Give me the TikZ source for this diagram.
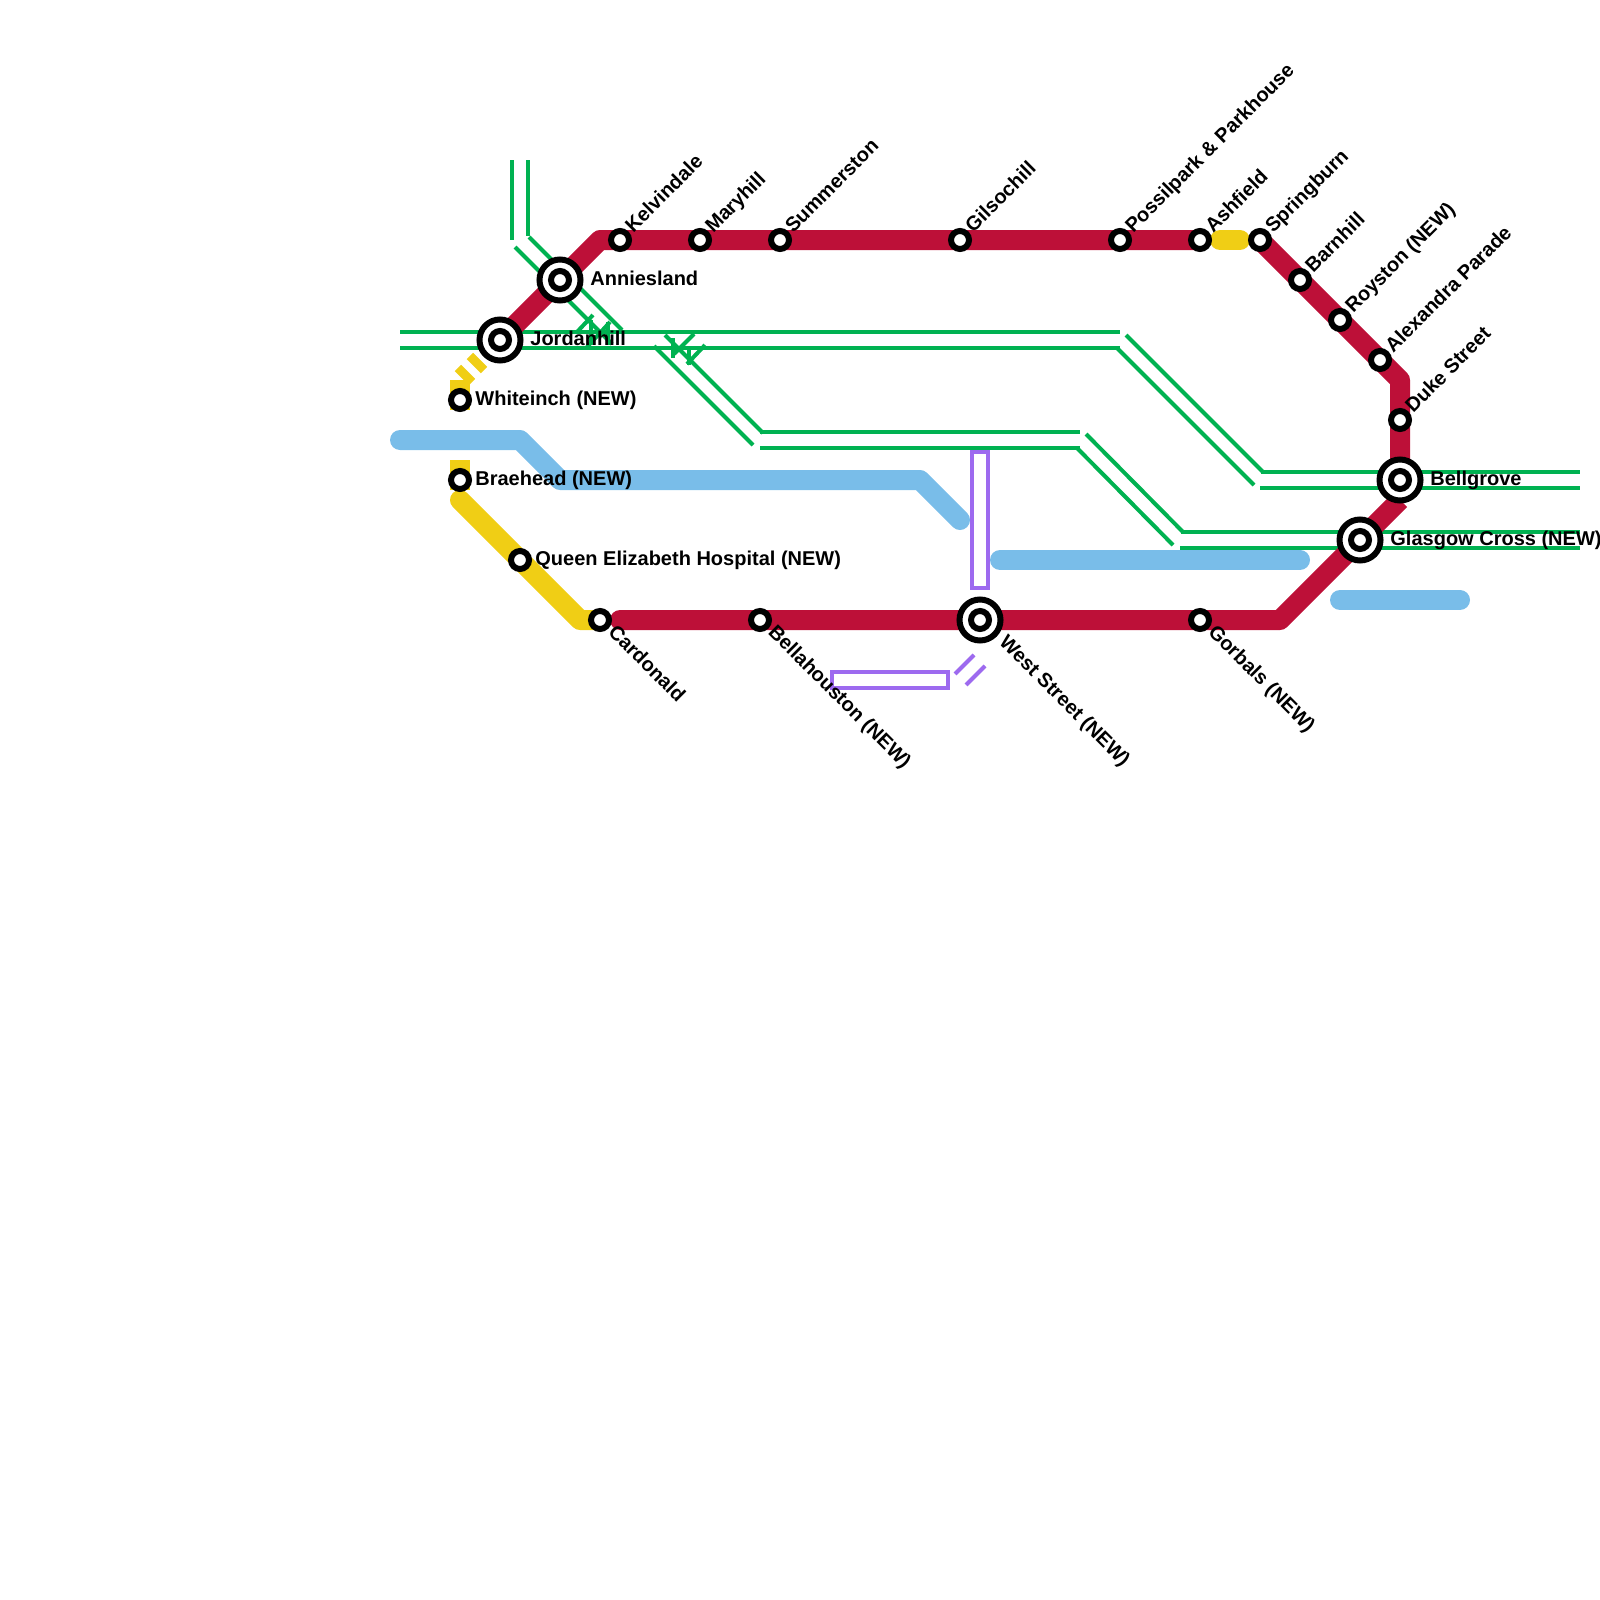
\documentclass[tikz,border=0pt]{standalone}
\usepackage{fontspec}
\setmainfont{Liberation Sans}[BoldFont={Liberation Sans Bold}]
\definecolor{cred}{HTML}{BD1038}
\definecolor{cyel}{HTML}{F0CE15}
\definecolor{cblue}{HTML}{79BDE9}
\definecolor{cgreen}{HTML}{00B251}
\definecolor{cpurple}{HTML}{9D6AEF}
\pgfdeclarelayer{lines}
\pgfsetlayers{lines,main}
\tikzset{
  redline/.style={draw=cred,line width=10pt,line join=round},
  yelline/.style={draw=cyel,line width=10pt},
  blueline/.style={draw=cblue,line width=10pt,line cap=round,line join=round},
  greenline/.style={draw=cgreen,line width=2pt},
  purpline/.style={draw=cpurple,line width=2pt},
  stn/.style={circle,draw=black,fill=white,line width=3pt,minimum size=9pt,inner sep=0pt},
  bigstn/.style={circle,draw=black,fill=white,line width=3pt,minimum size=20.5pt,inner sep=0pt},
  lab/.style={font=\bfseries\fontsize{10}{12}\selectfont,text=black,inner sep=0pt,anchor=base west},
  labup/.style={lab,rotate=45},
  labdn/.style={lab,rotate=-45},
}
\begin{document}
\begin{tikzpicture}[x=0.5pt,y=-0.5pt]
\path[use as bounding box] (0,0) rectangle (1600,1600);
% way-points
\coordinate (rA) at (600,240);
\coordinate (rB) at (1400,380);
\coordinate (rC) at (1400,500);
\coordinate (rD) at (1280,620);
\coordinate (rE) at (620,620);
\coordinate (yA) at (1220,240);
\coordinate (yB) at (1240,240);
\coordinate (yC) at (460,500);
\coordinate (yD) at (580,620);
\coordinate (yE) at (460,380);
\coordinate (yF) at (460,460);
\coordinate (yG) at (460,410);
\coordinate (yH) at (460,490);
\coordinate (bA) at (400,440);
\coordinate (bB) at (520,440);
\coordinate (bC) at (560,480);
\coordinate (bD) at (920,480);
\coordinate (bE) at (960,520);
\coordinate (bF) at (1000,560);
\coordinate (bG) at (1300,560);
\coordinate (bH) at (1340,600);
\coordinate (bI) at (1460,600);
% green way-points
\coordinate (g1a) at (512,160); \coordinate (g1b) at (512,240);
\coordinate (g2a) at (528,160); \coordinate (g2b) at (528,236);
\coordinate (g3a) at (529,237); \coordinate (g3b) at (622,330);
\coordinate (g4a) at (515,247); \coordinate (g4b) at (612,344);
\coordinate (g5a) at (400,332); \coordinate (g5b) at (1120,332);
\coordinate (g6a) at (400,348); \coordinate (g6b) at (1120,348);
\coordinate (g7a) at (665,335); \coordinate (g7b) at (763,433);
\coordinate (g8a) at (654,346); \coordinate (g8b) at (753,445);
\coordinate (g9a) at (760,432); \coordinate (g9b) at (1080,432);
\coordinate (g10a) at (760,448); \coordinate (g10b) at (1080,448);
\coordinate (g11a) at (1086,434); \coordinate (g11b) at (1183,532);
\coordinate (g12a) at (1077,448); \coordinate (g12b) at (1173,545);
\coordinate (g13a) at (1181,532); \coordinate (g13b) at (1580,532);
\coordinate (g14a) at (1180,548); \coordinate (g14b) at (1580,548);
\coordinate (g15a) at (1126,335); \coordinate (g15b) at (1263,472);
\coordinate (g16a) at (1117,348); \coordinate (g16b) at (1254,485);
\coordinate (g17a) at (1261,472); \coordinate (g17b) at (1580,472);
\coordinate (g18a) at (1260,488); \coordinate (g18b) at (1580,488);
% green crossing ticks
\coordinate (t1a) at (577,332); \coordinate (t1b) at (593,315);
\coordinate (t2a) at (591,320); \coordinate (t2b) at (591,345);
\coordinate (t3a) at (587,347); \coordinate (t3b) at (610,322);
\coordinate (t4a) at (608,322); \coordinate (t4b) at (608,345);
\coordinate (t5a) at (694,334); \coordinate (t5b) at (674,354);
\coordinate (t6a) at (673,338); \coordinate (t6b) at (673,358);
\coordinate (t7a) at (705,345); \coordinate (t7b) at (687,364);
\coordinate (t8a) at (689,347); \coordinate (t8b) at (689,365);
% purple way-points
\coordinate (p1a) at (972,452); \coordinate (p1b) at (988,588);
\coordinate (p2a) at (832,672); \coordinate (p2b) at (948,688);
\coordinate (p3a) at (955,674); \coordinate (p3b) at (974,655);
\coordinate (p4a) at (966,685); \coordinate (p4b) at (985,666);
% stations
\node[stn] (kelv) at (620,240) {};
\node[stn] (mary) at (700,240) {};
\node[stn] (summ) at (780,240) {};
\node[stn] (gils) at (960,240) {};
\node[stn] (poss) at (1120,240) {};
\node[stn] (ashf) at (1200,240) {};
\node[stn] (spri) at (1260,240) {};
\node[stn] (barn) at (1300,280) {};
\node[stn] (roys) at (1340,320) {};
\node[stn] (alex) at (1380,360) {};
\node[stn] (duke) at (1400,420) {};
\node[stn] (whit) at (460,400) {};
\node[stn] (brae) at (460,480) {};
\node[stn] (qeh) at (520,560) {};
\node[stn] (card) at (600,620) {};
\node[stn] (bell) at (760,620) {};
\node[stn] (gorb) at (1200,620) {};
\node[bigstn] (jord) at (500,340) {};
\node[bigstn] (anni) at (560,280) {};
\node[bigstn] (bgro) at (1400,480) {};
\node[bigstn] (glas) at (1360,540) {};
\node[bigstn] (west) at (980,620) {};
\node[stn] (anni2) at (560,280) {};
\node[stn] (jord2) at (500,340) {};
\node[stn] (bgro2) at (1400,480) {};
\node[stn] (glas2) at (1360,540) {};
\node[stn] (west2) at (980,620) {};
% labels
\node[labup] (lkelv) at (633,234) {Kelvindale};
\node[labup] (lmary) at (713,234) {Maryhill};
\node[labup] (lsumm) at (793,234) {Summerston};
\node[labup] (lgils) at (973,234) {Gilsochill};
\node[labup] (lposs) at (1133,234) {Possilpark \& Parkhouse};
\node[labup] (lashf) at (1213,234) {Ashfield};
\node[labup] (lspri) at (1273,234) {Springburn};
\node[labup] (lbarn) at (1313,274) {Barnhill};
\node[labup] (lroys) at (1353,314) {Royston (NEW)};
\node[labup] (lalex) at (1393,354) {Alexandra Parade};
\node[labup] (lduke) at (1413,414) {Duke Street};
\node[lab] (lanni) at (590,285) {Anniesland};
\node[lab] (ljord) at (530,345) {Jordanhill};
\node[lab] (lwhit) at (475,405) {Whiteinch (NEW)};
\node[lab] (lbrae) at (475,485) {Braehead (NEW)};
\node[lab] (lqeh) at (535,565) {Queen Elizabeth Hospital (NEW)};
\node[lab] (lbgro) at (1430,485) {Bellgrove};
\node[lab] (lglas) at (1390,545) {Glasgow Cross (NEW)};
\node[labdn] (lcard) at (607,633) {Cardonald};
\node[labdn] (lbell) at (767,633) {Bellahouston (NEW)};
\node[labdn] (lwest) at (998,643) {West Street (NEW)};
\node[labdn] (lgorb) at (1207,633) {Gorbals (NEW)};
\begin{pgfonlayer}{lines}
  % green
  \draw[greenline] (g1a) -- (g1b);
  \draw[greenline] (g2a) -- (g2b);
  \draw[greenline] (g3a) -- (g3b);
  \draw[greenline] (g4a) -- (g4b);
  \draw[greenline] (g5a) -- (g5b);
  \draw[greenline] (g6a) -- (g6b);
  \draw[greenline] (g7a) -- (g7b);
  \draw[greenline] (g8a) -- (g8b);
  \draw[greenline] (g9a) -- (g9b);
  \draw[greenline] (g10a) -- (g10b);
  \draw[greenline] (g11a) -- (g11b);
  \draw[greenline] (g12a) -- (g12b);
  \draw[greenline] (g13a) -- (g13b);
  \draw[greenline] (g14a) -- (g14b);
  \draw[greenline] (g15a) -- (g15b);
  \draw[greenline] (g16a) -- (g16b);
  \draw[greenline] (g17a) -- (g17b);
  \draw[greenline] (g18a) -- (g18b);
  \draw[greenline] (t1a) -- (t1b);
  \draw[greenline] (t2a) -- (t2b);
  \draw[greenline] (t3a) -- (t3b);
  \draw[greenline] (t4a) -- (t4b);
  \draw[greenline] (t5a) -- (t5b);
  \draw[greenline] (t6a) -- (t6b);
  \draw[greenline] (t7a) -- (t7b);
  \draw[greenline] (t8a) -- (t8b);
  % blue
  \draw[blueline] (bA) -- (bB) -- (bC) -- (bD) -- (bE);
  \draw[blueline] (bF) -- (bG);
  \draw[blueline] (bH) -- (bI);
  % yellow
  \draw[yelline,line cap=round] (yA) -- (yB);
  \draw[yelline,line cap=round,line join=round] (yC) -- (yD) -- (card.center);
  \draw[yelline] (yE) -- (yG);
  \draw[yelline] (yF) -- (yH);
  \draw[yelline,dash pattern=on 4.5pt off 4pt,dash phase=7.25pt] (yE) -- (jord.center);
  % red
  \draw[redline] (jord.center) -- (rA) -- (ashf.center);
  \draw[redline] (spri.center) -- (rB) -- (bgro.center);
  \draw[redline] (rC) -- (rD) -- (gorb.center) -- (rE);
  \draw[redline,line cap=round] (rE) -- (bell.center);
  % purple
  \draw[purpline] (p1a) rectangle (p1b);
  \draw[purpline] (p2a) rectangle (p2b);
  \draw[purpline] (p3a) -- (p3b);
  \draw[purpline] (p4a) -- (p4b);
\end{pgfonlayer}
\end{tikzpicture}
\end{document}
